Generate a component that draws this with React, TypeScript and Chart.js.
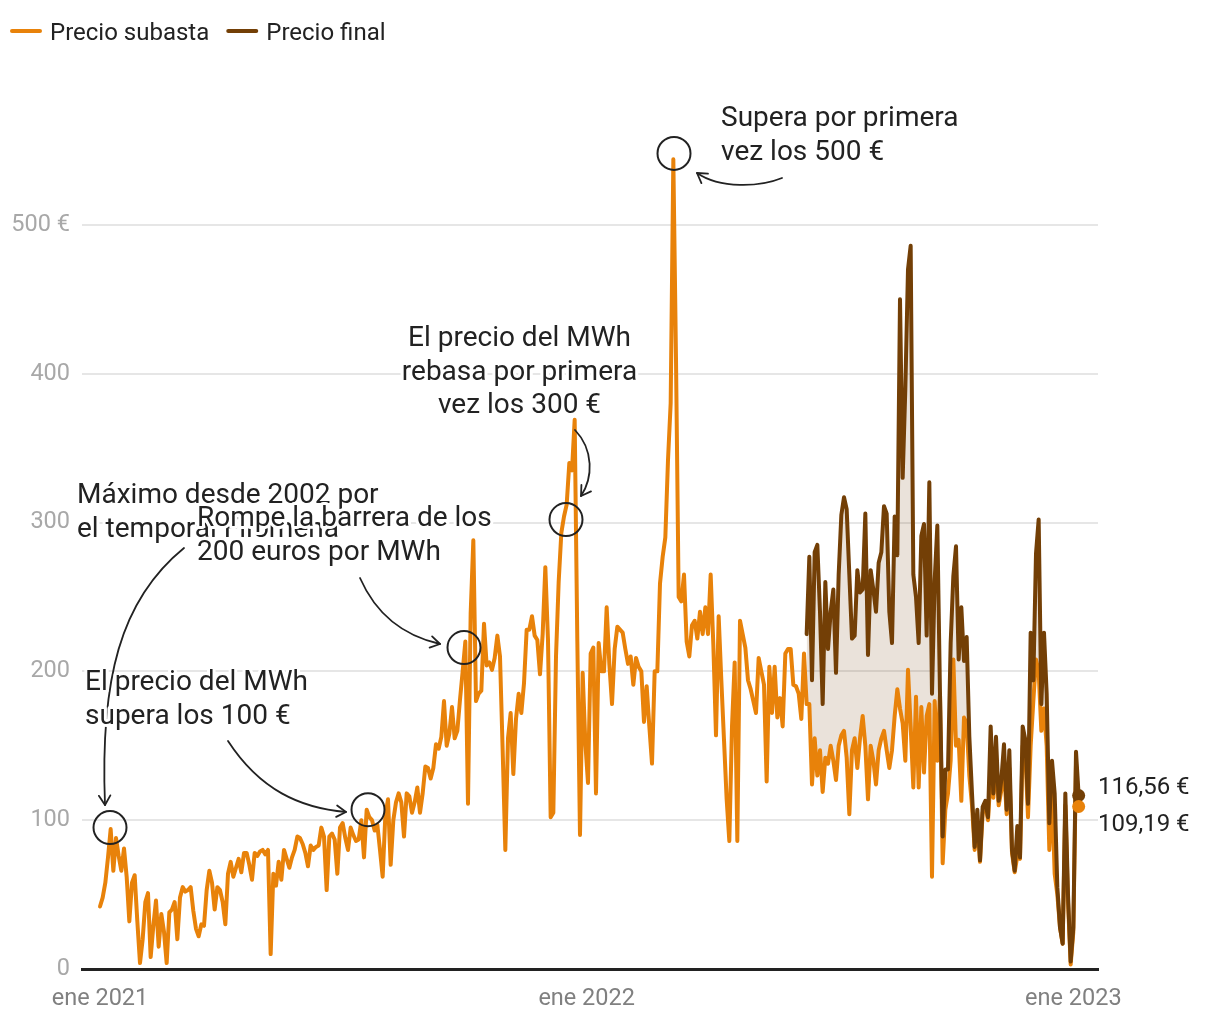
import React, { useEffect, useRef } from 'react';
import { Chart, registerables } from 'chart.js';

Chart.register(...registerables);

const FONT = 'Roboto, "Noto Sans", "DejaVu Sans", sans-serif';
const NARANJA = '#e8820a';
const MARRON = '#733f06';
const RELLENO = 'rgba(115, 63, 6, 0.15)';
const TEXTO = '#222222';

// Días contados desde el 1 de enero de 2021; un valor cada PASO_DIAS días
const PASO_DIAS = 2;
const inicioSubasta = 0;
const precioSubasta = [
  42, 48, 58, 75, 94, 66, 88, 76, 66, 81,
  62, 32, 58, 63, 32, 4, 20, 45, 51, 8,
  29, 46, 15, 37, 25, 4, 38, 40, 45, 20,
  48, 55, 52, 53, 55, 39, 27, 22, 30, 29,
  53, 66, 58, 40, 55, 53, 45, 30, 64, 72,
  62, 68, 74, 65, 78, 78, 70, 60, 78, 76,
  79, 80, 77, 80, 10, 64, 56, 72, 60, 80,
  74, 68, 75, 80, 89, 88, 84, 78, 69, 83,
  80, 82, 83, 95, 89, 53, 89, 91, 87, 64,
  95, 98, 88, 80, 95, 90, 86, 87, 100, 75,
  107, 102, 100, 93, 97, 80, 62, 103, 114, 70,
  100, 112, 118, 112, 89, 118, 116, 105, 112, 122,
  105, 118, 136, 135, 128, 135, 151, 148, 156, 180,
  150, 158, 176, 155, 160, 181, 200, 220, 111, 239,
  288, 180, 185, 187, 232, 204, 206, 201, 209, 224,
  210, 147, 80, 155, 172, 131, 168, 185, 172, 192,
  228, 228, 237, 224, 221, 198, 225, 270, 221, 102,
  105, 210, 260, 293, 304, 312, 340, 335, 369, 220,
  90, 199, 152, 125, 212, 216, 118, 219, 200, 200,
  243, 205, 178, 215, 230, 228, 226, 215, 205, 210,
  191, 209, 203, 200, 166, 190, 163, 138, 200, 200,
  259, 277, 290, 342, 380, 544, 410, 250, 247, 265,
  220, 210, 231, 234, 222, 240, 225, 243, 225, 265,
  218, 157, 237, 194, 154, 114, 86, 163, 206, 86,
  234, 225, 216, 194, 188, 180, 172, 209, 200, 191,
  126, 203, 172, 203, 169, 182, 163, 212, 215, 215,
  191, 190, 185, 168, 212, 178, 178, 124, 155, 130,
  147, 119, 142, 138, 150, 140, 127, 150, 157, 160,
  142, 104, 147, 155, 135, 155, 170, 150, 114, 150,
  140, 124, 147, 155, 160, 147, 135, 147, 170, 188,
  175, 165, 140, 201, 163, 122, 183, 122, 176, 132,
  170, 178, 62, 180, 140, 185, 71, 107, 118, 140,
  208, 150, 154, 113, 169, 165, 130, 110, 80, 100,
  72, 105, 110, 100, 130, 115, 140, 110, 120, 135,
  104, 135, 78, 65, 76, 74, 150, 145, 102, 150,
  180, 208, 200, 160, 175, 150, 80, 120, 64, 50,
  28, 17, 110, 45, 3, 25, 138, 109.19,
];

const inicioFinal = 530; // 15 de junio de 2022
const precioFinal = [
  225, 277, 194, 280, 285, 240, 178, 260, 215, 240,
  255, 199, 265, 305, 317, 309, 265, 222, 224, 268,
  253, 255, 306, 211, 268, 255, 240, 273, 280, 311,
  306, 240, 219, 304, 278, 450, 330, 390, 470, 486,
  265, 250, 219, 291, 299, 224, 327, 185, 261, 298,
  185, 89, 134, 134, 219, 264, 284, 208, 243, 207,
  223, 156, 118, 82, 107, 73, 109, 113, 102, 163,
  118, 156, 113, 127, 151, 107, 147, 80, 66, 96,
  75, 163, 154, 111, 226, 194, 279, 302, 178, 226,
  185, 98, 140, 118, 55, 28, 17, 118, 50, 5, 28, 146, 116.56,
];

const series = ['Precio subasta', 'Precio final'];
const diasTicks = [0, 365, 730];
const etiquetasTicks = ['ene 2021', 'ene 2022', 'ene 2023'];
const valoresEjeY = [0, 100, 200, 300, 400, 500];
const etiquetasEjeY = ['0', '100', '200', '300', '400', '500 €'];

// Anotaciones
const circulos = [
  { dia: 7.5, valor: 95 },
  { dia: 201, valor: 107 },
  { dia: 273, valor: 216 },
  { dia: 349.5, valor: 302 },
  { dia: 430.5, valor: 548 },
];
const notas = [
  { lineas: ['Supera por primera', 'vez los 500 €'], x: 721, y: 119, align: 'left' },
  { lineas: ['El precio del MWh', 'rebasa por primera', 'vez los 300 €'], x: 519.5, y: 339, align: 'center' },
  { lineas: ['El precio del MWh', 'supera los 100 €'], x: 85, y: 683, align: 'left' },
  { lineas: ['Máximo desde 2002 por', 'el temporal Filomena'], x: 77, y: 496, align: 'left' },
  { lineas: ['Rompe la barrera de los', '200 euros por MWh'], x: 197, y: 519, align: 'left' },
];
const flechas = [
  [184, 548, 120, 600, 100, 680, 105, 805],
  [228, 741, 260, 790, 300, 808, 346, 812],
  [360, 578, 375, 612, 400, 635, 440, 644],
  [575, 430, 594, 450, 593, 478, 581, 496],
  [782, 178, 760, 187, 720, 189, 697, 173],
];

const formato = (v: number) => v.toFixed(2).replace('.', ',') + ' €';

const puntos = (inicio: number, valores: number[]) =>
  valores.map((v, i) => ({ x: inicio + i * PASO_DIAS, y: v }));

const datosSubasta = puntos(inicioSubasta, precioSubasta);
const datosSolape = datosSubasta.filter((p) => p.x >= inicioFinal);
const datosFinal = puntos(inicioFinal, precioFinal);

const anotaciones = {
  id: 'anotaciones',
  afterDatasetsDraw(chart: any) {
    const { ctx } = chart;
    const xs = chart.scales.x;
    const ys = chart.scales.y;
    ctx.save();

    // flechas
    ctx.strokeStyle = TEXTO;
    ctx.lineWidth = 1.8;
    ctx.lineCap = 'round';
    ctx.lineJoin = 'round';
    for (const f of flechas) {
      ctx.beginPath();
      ctx.moveTo(f[0], f[1]);
      ctx.bezierCurveTo(f[2], f[3], f[4], f[5], f[6], f[7]);
      ctx.stroke();
      const ang = Math.atan2(f[7] - f[5], f[6] - f[4]);
      const L = 11;
      ctx.beginPath();
      ctx.moveTo(f[6] - L * Math.cos(ang - 0.55), f[7] - L * Math.sin(ang - 0.55));
      ctx.lineTo(f[6], f[7]);
      ctx.lineTo(f[6] - L * Math.cos(ang + 0.55), f[7] - L * Math.sin(ang + 0.55));
      ctx.stroke();
    }

    // círculos
    ctx.lineWidth = 2;
    for (const c of circulos) {
      ctx.beginPath();
      ctx.arc(xs.getPixelForValue(c.dia), ys.getPixelForValue(c.valor), 16.5, 0, Math.PI * 2);
      ctx.stroke();
    }

    // textos con halo blanco
    ctx.font = `28px ${FONT}`;
    ctx.textBaseline = 'middle';
    for (const n of notas) {
      ctx.textAlign = n.align;
      n.lineas.forEach((linea, i) => {
        const yy = n.y + i * 33.5;
        ctx.strokeStyle = '#ffffff';
        ctx.lineWidth = 6;
        ctx.strokeText(linea, n.x, yy);
        ctx.fillStyle = TEXTO;
        ctx.fillText(linea, n.x, yy);
      });
    }

    // puntos finales y etiquetas
    const mS = chart.getDatasetMeta(0);
    const mF = chart.getDatasetMeta(2);
    const pS = mS.data[mS.data.length - 1];
    const pF = mF.data[mF.data.length - 1];
    ctx.fillStyle = MARRON;
    ctx.beginPath();
    ctx.arc(pF.x, pF.y, 6.5, 0, Math.PI * 2);
    ctx.fill();
    ctx.fillStyle = NARANJA;
    ctx.beginPath();
    ctx.arc(pS.x, pS.y, 6.5, 0, Math.PI * 2);
    ctx.fill();
    ctx.font = `24px ${FONT}`;
    ctx.textAlign = 'left';
    ctx.fillStyle = TEXTO;
    ctx.fillText(formato(precioFinal[precioFinal.length - 1]), chart.chartArea.right, pF.y - 8);
    ctx.fillText(formato(precioSubasta[precioSubasta.length - 1]), chart.chartArea.right, pS.y + 19);

    // leyenda
    const colores = [NARANJA, MARRON];
    let lx = 12;
    ctx.font = `24px ${FONT}`;
    ctx.textBaseline = 'middle';
    series.forEach((s, i) => {
      ctx.strokeStyle = colores[i];
      ctx.lineWidth = 4;
      ctx.lineCap = 'round';
      ctx.beginPath();
      ctx.moveTo(lx, 31);
      ctx.lineTo(lx + 28, 31);
      ctx.stroke();
      ctx.fillStyle = TEXTO;
      ctx.fillText(s, lx + 38, 34);
      lx += 38 + ctx.measureText(s).width + 19;
    });

    ctx.restore();
  },
};

export default function App() {
  const ref = useRef<HTMLCanvasElement>(null);
  useEffect(() => {
    Chart.defaults.font.family = FONT;
    const chart = new Chart(ref.current as HTMLCanvasElement, {
      type: 'line',
      data: {
        datasets: [
          {
            label: series[0],
            data: datosSubasta,
            borderColor: NARANJA,
            backgroundColor: NARANJA,
            borderWidth: 4,
            pointRadius: 0,
            tension: 0,
            fill: false,
            order: 2,
            clip: false,
            borderJoinStyle: 'round',
            borderCapStyle: 'round',
          },
          {
            label: 'solape',
            data: datosSolape,
            borderColor: 'rgba(0,0,0,0)',
            borderWidth: 0,
            pointRadius: 0,
            tension: 0,
            fill: false,
            order: 3,
          },
          {
            label: series[1],
            data: datosFinal,
            borderColor: MARRON,
            backgroundColor: RELLENO,
            borderWidth: 4,
            pointRadius: 0,
            tension: 0,
            fill: { target: 1, above: RELLENO, below: RELLENO },
            order: 1,
            clip: false,
            borderJoinStyle: 'round',
            borderCapStyle: 'round',
          },
        ],
      } as any,
      options: {
        responsive: false,
        animation: false,
        devicePixelRatio: 1,
        events: [],
        layout: { padding: { top: 76, right: 122, left: 0, bottom: 0 } },
        plugins: {
          legend: { display: false },
          tooltip: { enabled: false },
          filler: { drawTime: 'beforeDatasetsDraw' },
        } as any,
        scales: {
          x: {
            type: 'linear',
            min: -13.5,
            max: 748.5,
            grid: { display: false, drawTicks: false },
            border: { display: true, color: '#222222', width: 3 },
            afterBuildTicks: (s: any) => {
              s.ticks = diasTicks.map((v) => ({ value: v }));
            },
            afterFit: (s: any) => {
              s.height = 51;
            },
            ticks: {
              autoSkip: false,
              maxRotation: 0,
              minRotation: 0,
              padding: 16,
              color: '#808080',
              font: { size: 23.5, family: FONT },
              callback: (v: any) => {
                const i = diasTicks.indexOf(Number(v));
                return i >= 0 ? etiquetasTicks[i] : '';
              },
            },
          },
          y: {
            type: 'linear',
            min: 0,
            max: 600,
            grid: { color: '#e6e6e6', lineWidth: 2, drawTicks: false },
            border: { display: false },
            afterBuildTicks: (s: any) => {
              s.ticks = valoresEjeY.map((v) => ({ value: v }));
            },
            afterFit: (s: any) => {
              s.width = 82;
            },
            ticks: {
              padding: 12,
              color: '#a8a8a8',
              font: { size: 23.5, family: FONT },
              callback: (v: any) => {
                const i = valoresEjeY.indexOf(Number(v));
                return i >= 0 ? etiquetasEjeY[i] : '';
              },
            },
          },
        },
      } as any,
      plugins: [anotaciones],
    });
    return () => chart.destroy();
  }, []);

  return (
    <div style={{ position: 'fixed', left: 0, top: 0, width: 1220, height: 1020, background: '#ffffff' }}>
      <canvas ref={ref} width={1220} height={1020} style={{ display: 'block', width: 1220, height: 1020 }} />
    </div>
  );
}
